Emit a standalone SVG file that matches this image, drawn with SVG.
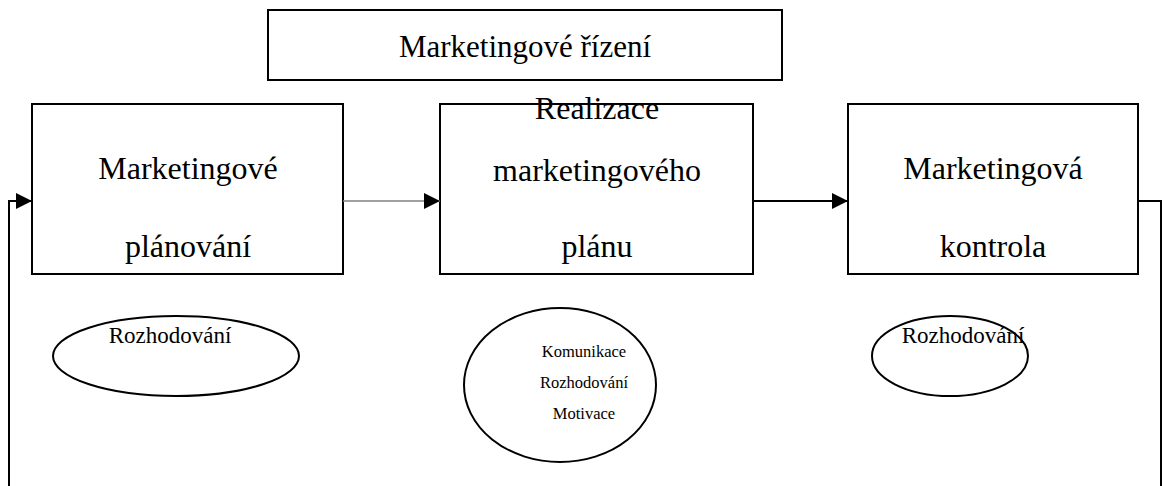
<svg xmlns="http://www.w3.org/2000/svg" width="1163" height="486" viewBox="0 0 1163 486">
<style>
.box{fill:#fff;stroke:#000;stroke-width:2}
.ell{fill:#fff;stroke:#000;stroke-width:2}
.t{font-family:"Liberation Serif",serif;fill:#000;text-anchor:middle}
.big{font-size:32px}
.mid{font-size:23px}
.sm{font-size:16.5px}
.c{fill:none;stroke:#000;stroke-width:2}
</style>
<defs>
<marker id="ah" markerWidth="16" markerHeight="16" viewBox="0 0 16 16" refX="16" refY="8" orient="auto" markerUnits="userSpaceOnUse">
<path d="M0,0 L16,8 L0,16 Z" fill="#000"/>
</marker>
</defs>
<g id="top">
<rect class="box" x="268" y="10" width="514" height="70"/>
<text class="t" x="525" y="57" style="font-size:31px">Marketingové řízení</text>
</g>
<g id="plan">
<rect class="box" x="32" y="104" width="311" height="170"/>
<text class="t big" x="188" y="179">Marketingové</text>
<text class="t big" x="188" y="257">plánování</text>
</g>
<g id="real">
<rect class="box" x="440" y="104" width="313" height="170"/>
<text class="t big" x="597" y="119">Realizace</text>
<text class="t big" x="597" y="181">marketingového</text>
<text class="t big" x="597" y="257">plánu</text>
</g>
<g id="ctrl">
<rect class="box" x="848" y="104" width="290" height="170"/>
<text class="t big" x="993" y="179">Marketingová</text>
<text class="t big" x="993" y="257">kontrola</text>
</g>
<g id="e1">
<ellipse class="ell" cx="176" cy="356" rx="123" ry="40"/>
<text class="t mid" x="170" y="343">Rozhodování</text>
</g>
<g id="e2">
<ellipse class="ell" cx="560" cy="385" rx="96" ry="77"/>
<text class="t sm" x="584" y="357">Komunikace</text>
<text class="t sm" x="584" y="388">Rozhodování</text>
<text class="t sm" x="584" y="419">Motivace</text>
</g>
<g id="e3">
<ellipse class="ell" cx="950" cy="356" rx="78" ry="40"/>
<text class="t mid" x="963" y="343">Rozhodování</text>
</g>
<g id="connectors">
<line x1="343" y1="201" x2="440" y2="201" stroke="#808080" stroke-width="1.5" marker-end="url(#ah)"/>
<line x1="753" y1="201" x2="848" y2="201" class="c" marker-end="url(#ah)"/>
<polyline class="c" points="9,486 9,201 32,201" marker-end="url(#ah)"/>
<polyline class="c" points="1138,201 1161,201 1161,486"/>
</g>
</svg>
